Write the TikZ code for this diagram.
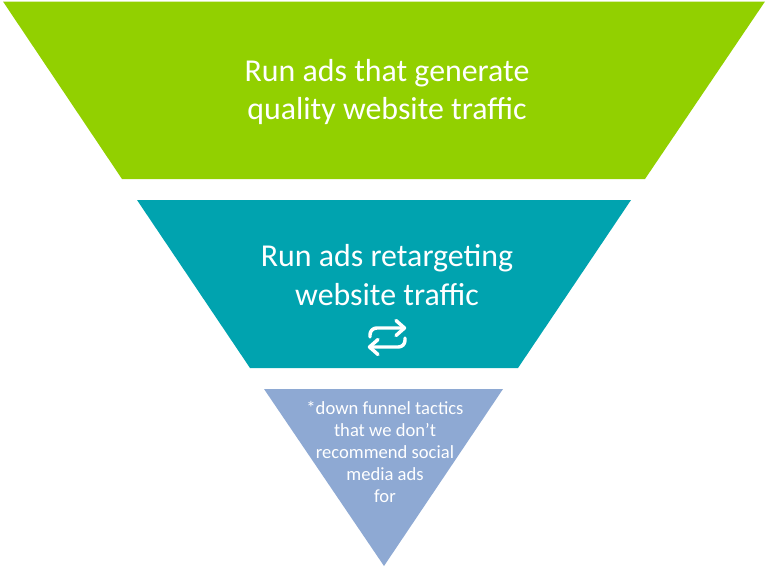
\documentclass[tikz,border=0pt]{standalone}
\usepackage{fontspec}
\setmainfont{Carlito}
\usepackage{tikz}
\definecolor{topgreen}{HTML}{92D000}
\definecolor{midteal}{HTML}{00A3AF}
\definecolor{lowblue}{HTML}{8EA9D3}

\begin{document}
\begin{tikzpicture}[
  x=0.75pt, y=-0.75pt,
  label/.style={text=white, align=center, inner sep=0pt},
  biglabel/.style={label, font=\fontsize{23.9}{29}\selectfont},
  smalllabel/.style={label, font=\fontsize{13.95}{16.6}\selectfont},
  swap/.style={draw=white, line width=2.6pt, line cap=round, line join=round, rounded corners=5pt}
]
\useasboundingbox (0,0) rectangle (768,569);

% funnel
\fill[topgreen] (3,1.5) -- (765,1.5) -- (645,179) -- (122,179) -- cycle;
\fill[midteal] (137,200) -- (631,200) -- (518,368) -- (250,368) -- cycle;
\fill[lowblue] (264,389) -- (503,389) -- (384,566) -- cycle;

\node[biglabel] (top) at (387,92) {Run ads that generate\\quality website traffic};
\node[biglabel] (mid) at (387,275) {Run ads retargeting\\website traffic};
\node[smalllabel] (low) at (385,452) {*down funnel tactics\\that we don’t\\recommend social\\media ads\\for};

% swap icon
\draw[swap] (370,337) -- (370,328) -- (404,328);
\draw[swap, rounded corners=0pt] (396,320.5) -- (404.5,328) -- (396,335.5);
\draw[swap] (405,338) -- (405,347) -- (371,347);
\draw[swap, rounded corners=0pt] (378,339.5) -- (369.5,347) -- (378,354.5);
\end{tikzpicture}
\end{document}
